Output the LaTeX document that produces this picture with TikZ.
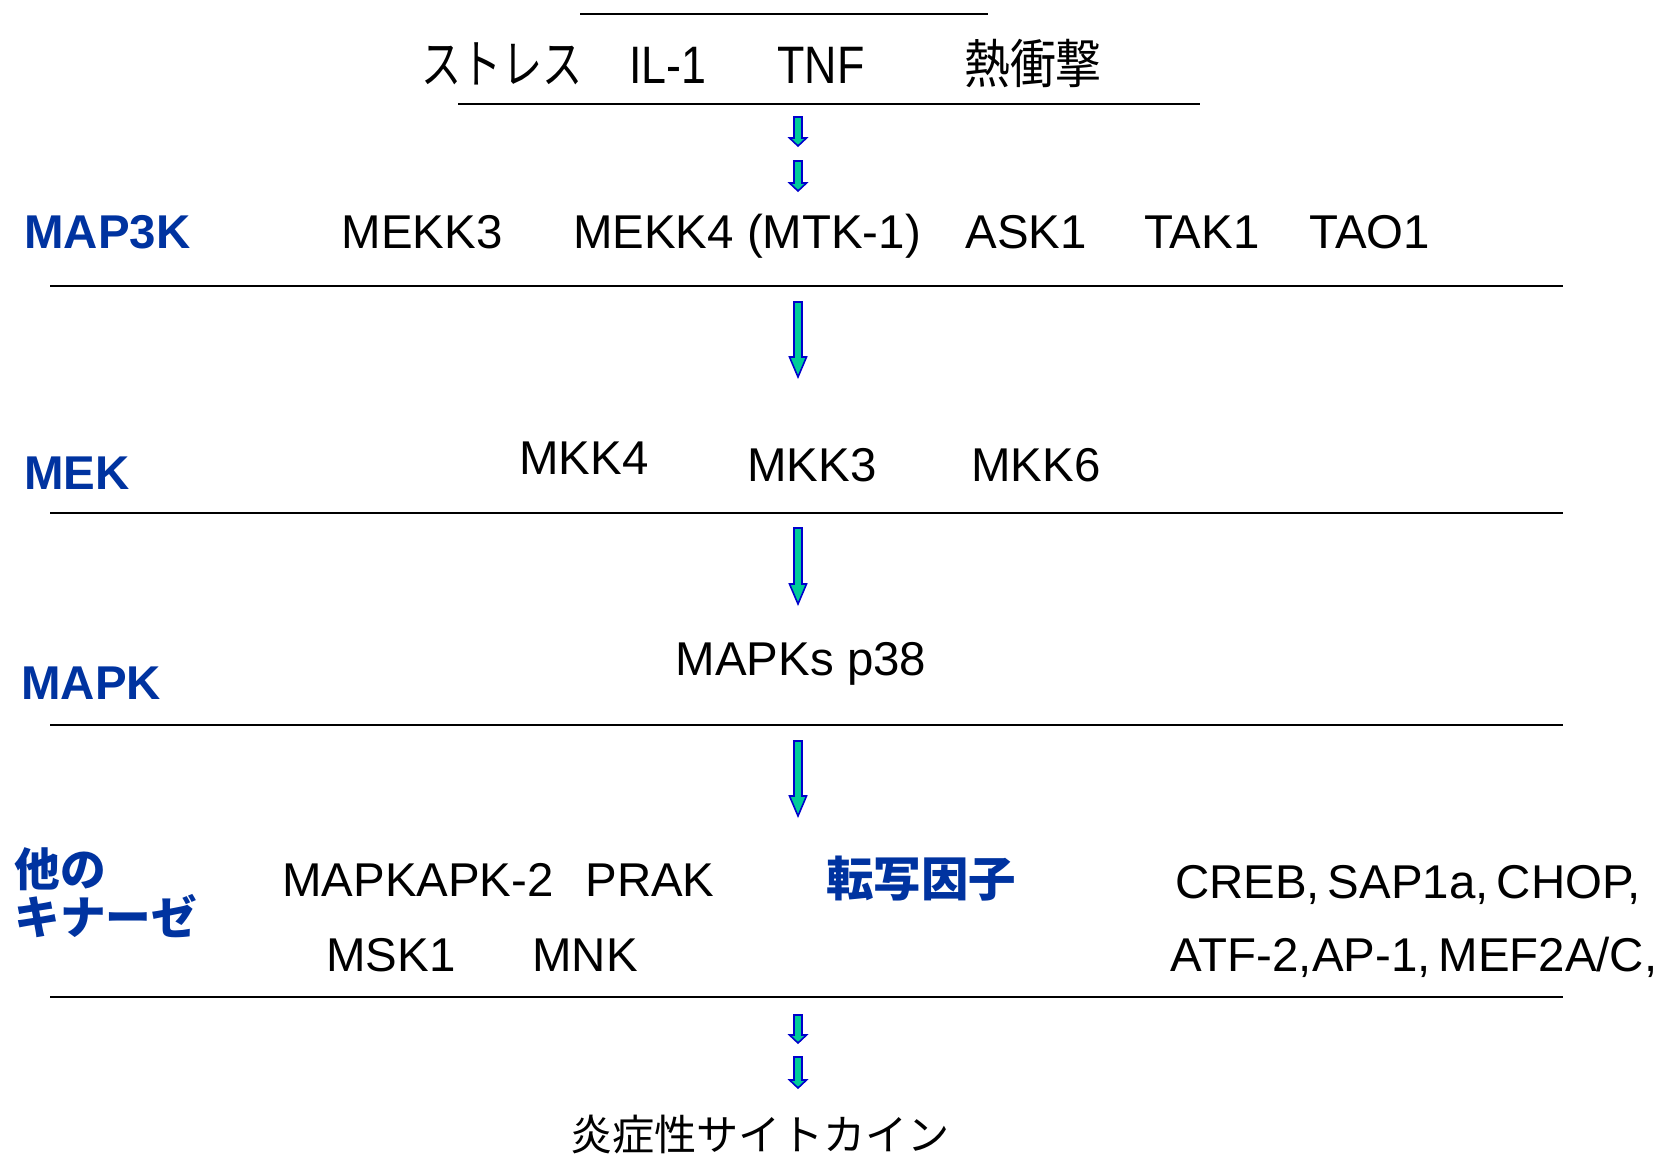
\documentclass[tikz,border=0pt]{standalone}
\usepackage{fontspec}
\usepackage{graphicx}
\setmainfont{Liberation Sans}
\newfontfamily\jp{Noto Sans CJK JP}
\definecolor{lblue}{HTML}{0033A0}
\definecolor{arrline}{HTML}{0000CC}
\definecolor{arrfill}{HTML}{00CC99}
\newcommand\mybarrow[4]{%
  \filldraw[arrstyle] (#1-4,#2) -- (#1+4,#2) -- (#1+4,#3-#4) -- (#1+8.5,#3-#4) -- (#1,#3) -- (#1-8.5,#3-#4) -- (#1-4,#3-#4) -- cycle;}
\begin{document}
\begin{tikzpicture}[x=0.02cm,y=-0.02cm,
  txt/.style={anchor=base, inner sep=0pt, font=\fontsize{27}{32}\selectfont},
  toptxt/.style={anchor=base, inner sep=0pt, font=\fontsize{30}{36}\selectfont},
  lab/.style={anchor=base west, inner sep=0pt, text=lblue, font=\fontsize{27}{32}\selectfont\bfseries},
  sep/.style={line width=1.2pt},
  arrstyle/.style={draw=arrline, fill=arrfill, line width=0.9pt, line join=miter}]
\useasboundingbox[fill=white] (0,0) rectangle (1666,1156);
% top
\draw[sep] (580,14) -- (988,14);
\node[toptxt] (stress) at (502,83) {\scalebox{0.76}[1]{\jp ストレス}};
\node[toptxt] (il1) at (668,83) {\scalebox{0.85}[1]{IL-1}};
\node[toptxt] (tnf) at (821,83) {\scalebox{0.85}[1]{TNF}};
\node[toptxt] (heat) at (1033,83) {\scalebox{0.87}[1]{\jp 熱衝撃}};
\draw[sep] (458,104) -- (1200,104);
\mybarrow{798}{117}{146}{8}
\mybarrow{798}{161}{191}{8}
% MAP3K
\node[lab] (map3k) at (24,248) {MAP3K};
\node[txt] (mekk3) at (422,248) {MEKK3};
\node[txt] (mekk4) at (747,248) {MEKK4 (MTK-1)};
\node[txt] (ask1) at (1026,248) {ASK1};
\node[txt] (tak1) at (1202,248) {TAK1};
\node[txt] (tao1) at (1370,248) {TAO1};
\draw[sep] (50,286) -- (1563,286);
\mybarrow{798}{302}{377}{20}
% MEK
\node[lab] (mek) at (24,489) {MEK};
\node[txt] (mkk4) at (584,474) {MKK4};
\node[txt] (mkk3) at (812,481) {MKK3};
\node[txt] (mkk6) at (1036,481) {MKK6};
\draw[sep] (50,513) -- (1563,513);
\mybarrow{798}{528}{604}{20}
% MAPK
\node[lab] (mapk) at (21,699) {MAPK};
\node[txt] (p38) at (801,675) {MAPKs p38};
\draw[sep] (50,725) -- (1563,725);
\mybarrow{798}{741}{816}{20}
% other kinases
\node[lab, font=\fontsize{26}{30}\selectfont\jp\bfseries] (other1) at (14,886) {他の};
\node[lab, font=\fontsize{26}{30}\selectfont\jp\bfseries] (other2) at (14,934) {キナーゼ};
\node[txt] (mapkapk) at (418,896) {MAPKAPK-2};
\node[txt] (prak) at (650,896) {PRAK};
\node[lab, anchor=base, font=\fontsize{27}{32}\selectfont\jp\bfseries] (tf) at (921,896) {転写因子};
\node[txt] (creb) at (1408,898) {CREB,\,SAP1a,\,CHOP,};
\node[txt] (msk1) at (391,971) {MSK1};
\node[txt] (mnk) at (585,971) {MNK};
\node[txt] (atf) at (1414,971) {ATF-2,AP-1,\,MEF2A/C,};
\draw[sep] (50,997) -- (1563,997);
\mybarrow{798}{1015}{1043}{8}
\mybarrow{798}{1057}{1088}{8}
\node[txt, font=\fontsize{24}{28}\selectfont\jp] (cyto) at (760,1150) {炎症性サイトカイン};
\end{tikzpicture}
\end{document}
